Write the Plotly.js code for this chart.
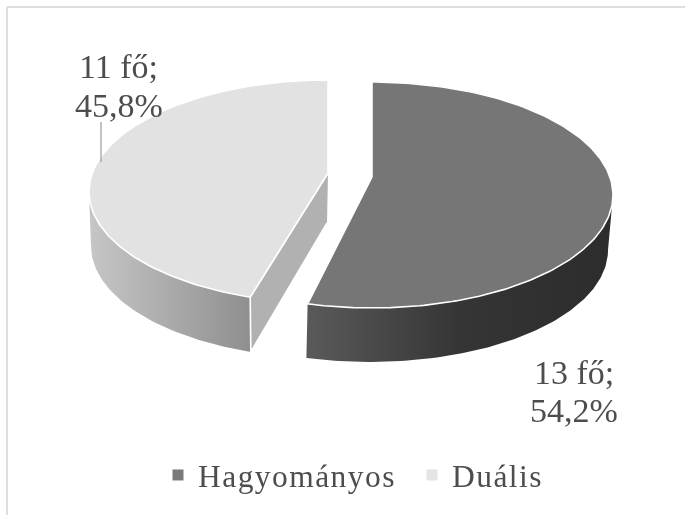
<!DOCTYPE html>
<html><head><meta charset="utf-8">
<script src="https://cdn.plot.ly/plotly-3.0.1.min.js"></script>
<style>
html,body{margin:0;padding:0;background:#fff}
#c{width:685px;height:515px;filter:blur(0.6px)}
.legendtext{letter-spacing:1.45px}
</style></head><body><div id="c"></div>
<script>
// Data
const categories = ["Hagyományos", "Duális"];
const people = [13, 11];
const unit = "fő";

// Styles
const topColors = ["#767676", "#e2e2e2"];
const wallScales = [
  [[0, "#5a5a5a"], [0.5, "#353535"], [1, "#2c2c2c"]],
  [[0, "#c6c6c6"], [1, "#8f8f8f"]]
];
const cutColor = "#b1b1b1";
const textColor = "#4d4d4d";
const serif = "Liberation Serif, serif";

// Projection of each exploded slice, in the hidden pixel axes
const geo = [
  {apex:[372,177], top:{cx:372,cy:195,rx:241,ry:113}, low:{cx:370,cy:250,rx:238,ry:112}, skew:0.5, wallFrom:90},
  {apex:[328,173], top:{cx:328,cy:191.6,rx:239,ry:111.6}, low:{cx:328,cy:246,rx:237,ry:112}, skew:4, wallTo:270, apexLow:[327,223]}
];
const total = people.reduce((a,b)=>a+b,0);
const ends = []; let acc = 0;
people.forEach(v=>{ const s = acc; acc += v/total*360; ends.push([s,acc]); });

function pt(e,deg){ const t=deg*Math.PI/180; return [e.cx+e.rx*Math.sin(t), e.cy-e.ry*Math.cos(t)]; }
function arc(e,a,b){ const o=[]; const n=Math.ceil(Math.abs(b-a)); for(let i=0;i<=n;i++) o.push(pt(e,a+(b-a)*i/n)); return o; }
function poly(points,extra){
  return Object.assign({x:points.map(p=>p[0]), y:points.map(p=>p[1]), mode:"lines", fill:"toself",
    showlegend:false, hoverinfo:"skip"}, extra);
}
const white = {color:"#ffffff", width:1.6};

// dark slice
const d0 = ends[0][0], d1 = ends[0][1]+geo[0].skew;
const dWall = arc(geo[0].top,geo[0].wallFrom,d1).concat(arc(geo[0].low,d1,geo[0].wallFrom));
const dTop = [geo[0].apex].concat(arc(geo[0].top,d0,d1));
// light slice
const l0 = ends[1][0]+geo[1].skew, l1 = ends[1][1];
const lWall = arc(geo[1].top,l0,geo[1].wallTo).concat(arc(geo[1].low,geo[1].wallTo,l0));
const lCut = [geo[1].apex, pt(geo[1].top,l0), pt(geo[1].low,l0), geo[1].apexLow];
const lTop = [geo[1].apex].concat(arc(geo[1].top,l0,l1));

const traces = [
  poly(lWall,{line:{color:"#ffffff",width:0}, fillgradient:{type:"horizontal",colorscale:wallScales[1]}}),
  poly(lCut,{line:white, fillcolor:cutColor}),
  poly(lTop.concat([lTop[0]]),{line:white, fillcolor:topColors[1]}),
  poly(dWall,{line:{color:"#ffffff",width:0}, fillgradient:{type:"horizontal",colorscale:wallScales[0]}}),
  poly(dTop.concat([dTop[0]]),{line:white, fillcolor:topColors[0]}),
  {x:[101,101], y:[122,162], mode:"lines", line:{color:"#9a9a9a",width:1.2}, showlegend:false, hoverinfo:"skip"}
];
categories.forEach((name,i)=>traces.push({
  x:[null], y:[null], name:name, mode:"markers",
  marker:{symbol:"square", size:11, color:i===0?"#7a7a7a":"#e4e4e4"}, showlegend:true
}));

function labelLines(i){
  const pct = (people[i]/total*100).toFixed(1).replace(".",",");
  return [people[i]+" "+unit+";", pct+"%"];
}
const labelPos = [[574,[372,410]],[118.5,[66,105]]];
const annotations = [];
categories.forEach((_,i)=>labelLines(i).forEach((line,j)=>annotations.push({
  x:labelPos[i][0], y:labelPos[i][1][j], xref:"x", yref:"y", text:line, showarrow:false,
  xanchor:"center", yanchor:"middle", align:"center",
  font:{family:serif,size:34,color:textColor}
})));

const layout = {
  width:685, height:515, margin:{l:0,r:0,t:0,b:0},
  paper_bgcolor:"#fff", plot_bgcolor:"#fff",
  xaxis:{range:[0,685],visible:false,fixedrange:true},
  yaxis:{range:[515,0],visible:false,fixedrange:true},
  annotations:annotations,
  shapes:[
    {type:"line",xref:"x",yref:"y",x0:7,x1:685,y0:7,y1:7,line:{color:"#dedede",width:2}},
    {type:"line",xref:"x",yref:"y",x0:7,x1:7,y0:7,y1:515,line:{color:"#dedede",width:2}}
  ],
  showlegend:true,
  legend:{orientation:"h",x:158/685,xanchor:"left",y:1-475/515,yanchor:"middle",
    entrywidth:209,entrywidthmode:"pixels",font:{family:serif,size:31.5,color:textColor},
    bgcolor:"rgba(0,0,0,0)"}
};
Plotly.newPlot("c",traces,layout,{displayModeBar:false,staticPlot:true});
</script></body></html>
